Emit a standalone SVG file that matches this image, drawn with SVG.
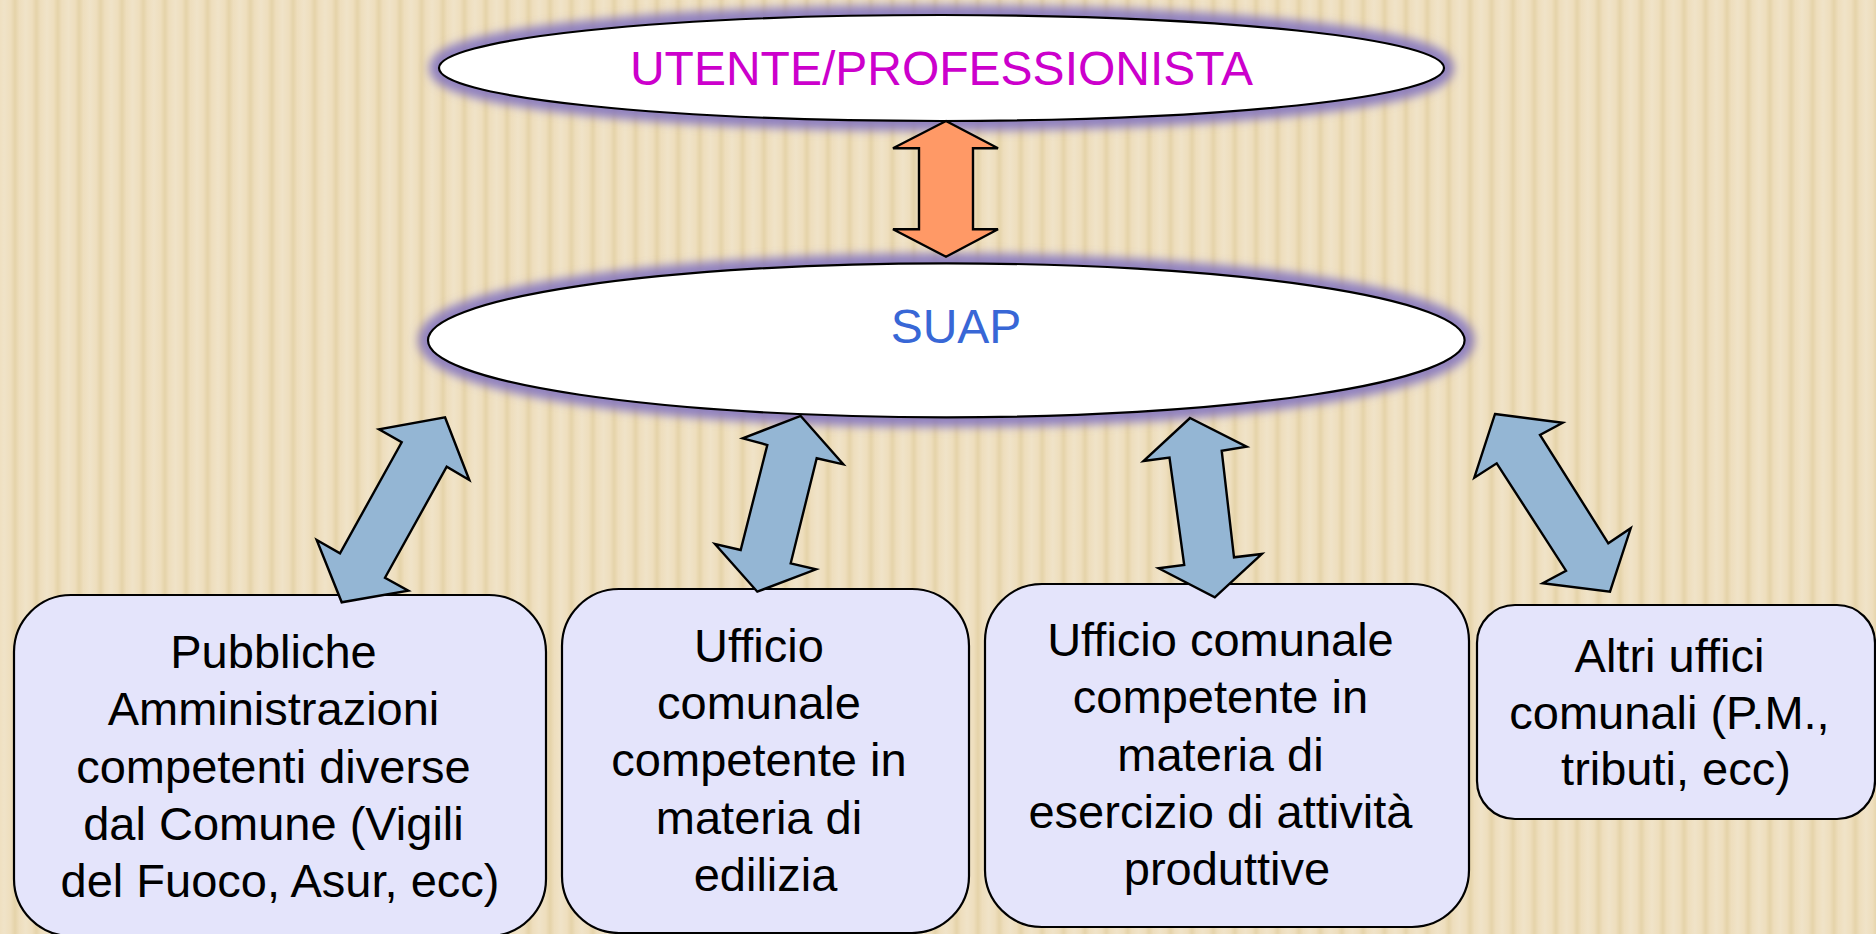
<svg xmlns="http://www.w3.org/2000/svg" width="1876" height="934" viewBox="0 0 1876 934">
  <defs>
    <linearGradient id="stripeGrad" x1="0" y1="0" x2="1" y2="0">
      <stop offset="0" stop-color="#F0E3C8"/>
      <stop offset="0.3" stop-color="#EEDEBD"/>
      <stop offset="0.5" stop-color="#E5D3A9"/>
      <stop offset="0.7" stop-color="#EEDEBD"/>
      <stop offset="1" stop-color="#F0E3C8"/>
    </linearGradient>
    <pattern id="stripes" x="4.3" y="0" width="21.4" height="934" patternUnits="userSpaceOnUse">
      <rect x="0" y="0" width="21.4" height="934" fill="url(#stripeGrad)"/>
    </pattern>
    <filter id="glow" x="-10%" y="-40%" width="120%" height="180%">
      <feGaussianBlur stdDeviation="5"/>
    </filter>
    <style>
      .glow { fill: none; stroke: #8072BE; stroke-width: 20; stroke-opacity: 0.85; filter: url(#glow); }
      .ell { fill: #FFFFFF; stroke: #000000; stroke-width: 2.2; }
      .box { fill: #E4E4FB; stroke: #000000; stroke-width: 2.2; }
      .barrow { fill: #94B6D4; stroke: #000000; stroke-width: 2.4; stroke-linejoin: miter; }
      .oarrow { fill: #FF9966; stroke: #000000; stroke-width: 2.4; stroke-linejoin: miter; }
      .btxt { font-family: "Liberation Sans", Arial, sans-serif; font-size: 47px; fill: #000000; text-anchor: middle; }
      .etxt { font-family: "Liberation Sans", Arial, sans-serif; font-size: 48px; text-anchor: middle; }
    </style>
  </defs>

  <rect x="0" y="0" width="1876" height="934" fill="url(#stripes)"/>

  <g id="utente">
    <ellipse class="glow" cx="941.5" cy="68" rx="502.5" ry="53"/>
    <ellipse class="ell" cx="941.5" cy="68" rx="502.5" ry="53"/>
    <text class="etxt" x="941.5" y="85" fill="#CC00CC">UTENTE/PROFESSIONISTA</text>
  </g>

  <g id="suap">
    <ellipse class="glow" cx="946.3" cy="340.3" rx="518.3" ry="77"/>
    <ellipse class="ell" cx="946.3" cy="340.3" rx="518.3" ry="77"/>
    <text class="etxt" x="956" y="343" fill="#3867D6">SUAP</text>
  </g>

  <g id="box-pa">
    <rect class="box" x="14" y="595" width="532" height="341" rx="57" ry="57"/>
    <text class="btxt">
      <tspan x="280" y="668">Pubbliche</tspan>
      <tspan x="280" y="725">Amministrazioni</tspan>
      <tspan x="280" y="783">competenti diverse</tspan>
      <tspan x="280" y="840">dal Comune (Vigili</tspan>
      <tspan x="280" y="897">del Fuoco, Asur, ecc)</tspan>
    </text>
  </g>

  <g id="box-edilizia">
    <rect class="box" x="562" y="589" width="407" height="344" rx="57" ry="57"/>
    <text class="btxt">
      <tspan x="765.5" y="662">Ufficio</tspan>
      <tspan x="765.5" y="719">comunale</tspan>
      <tspan x="765.5" y="776">competente in</tspan>
      <tspan x="765.5" y="834">materia di</tspan>
      <tspan x="765.5" y="891">edilizia</tspan>
    </text>
  </g>

  <g id="box-attivita">
    <rect class="box" x="985" y="584" width="484" height="343" rx="57" ry="57"/>
    <text class="btxt">
      <tspan x="1227" y="656">Ufficio comunale</tspan>
      <tspan x="1227" y="713">competente in</tspan>
      <tspan x="1227" y="771">materia di</tspan>
      <tspan x="1227" y="828">esercizio di attività</tspan>
      <tspan x="1227" y="885">produttive</tspan>
    </text>
  </g>

  <g id="box-altri">
    <rect class="box" x="1477" y="605" width="398" height="214" rx="38" ry="38"/>
    <text class="btxt">
      <tspan x="1676" y="672">Altri uffici</tspan>
      <tspan x="1676" y="729">comunali (P.M.,</tspan>
      <tspan x="1676" y="785">tributi, ecc)</tspan>
    </text>
  </g>

  <g id="connectors">
    <polygon class="oarrow" points="946,121 998,148.3 973,148.3 973,229.3 998,229.3 946,256.7 893,229.3 919,229.3 919,148.3 893,148.3"/>
    <polygon class="barrow" points="445,417.3 469.3,480 446.7,466.7 385,577.7 408.3,590.7 341.7,602.3 316.7,540 340,553.3 401.7,442.3 379,429.3"/>
    <polygon class="barrow" points="800.7,416 843.3,464.3 816.7,458.3 790.7,563.3 816,569.3 757.3,591.7 715,544 740.7,550 767.3,445 742.7,438.3"/>
    <polygon class="barrow" points="1190,418 1246.6,446.7 1221.7,450.7 1234,557.3 1261.9,554 1214.8,597.3 1158.6,568.3 1184.2,565 1169.5,457.5 1143.5,461"/>
    <polygon class="barrow" points="1495,414 1562.7,422.7 1540,435 1608.3,543.3 1630.7,528.3 1610,591.7 1542.7,583.3 1566,570.7 1496.7,463.3 1474.3,477.7"/>
  </g>
</svg>
